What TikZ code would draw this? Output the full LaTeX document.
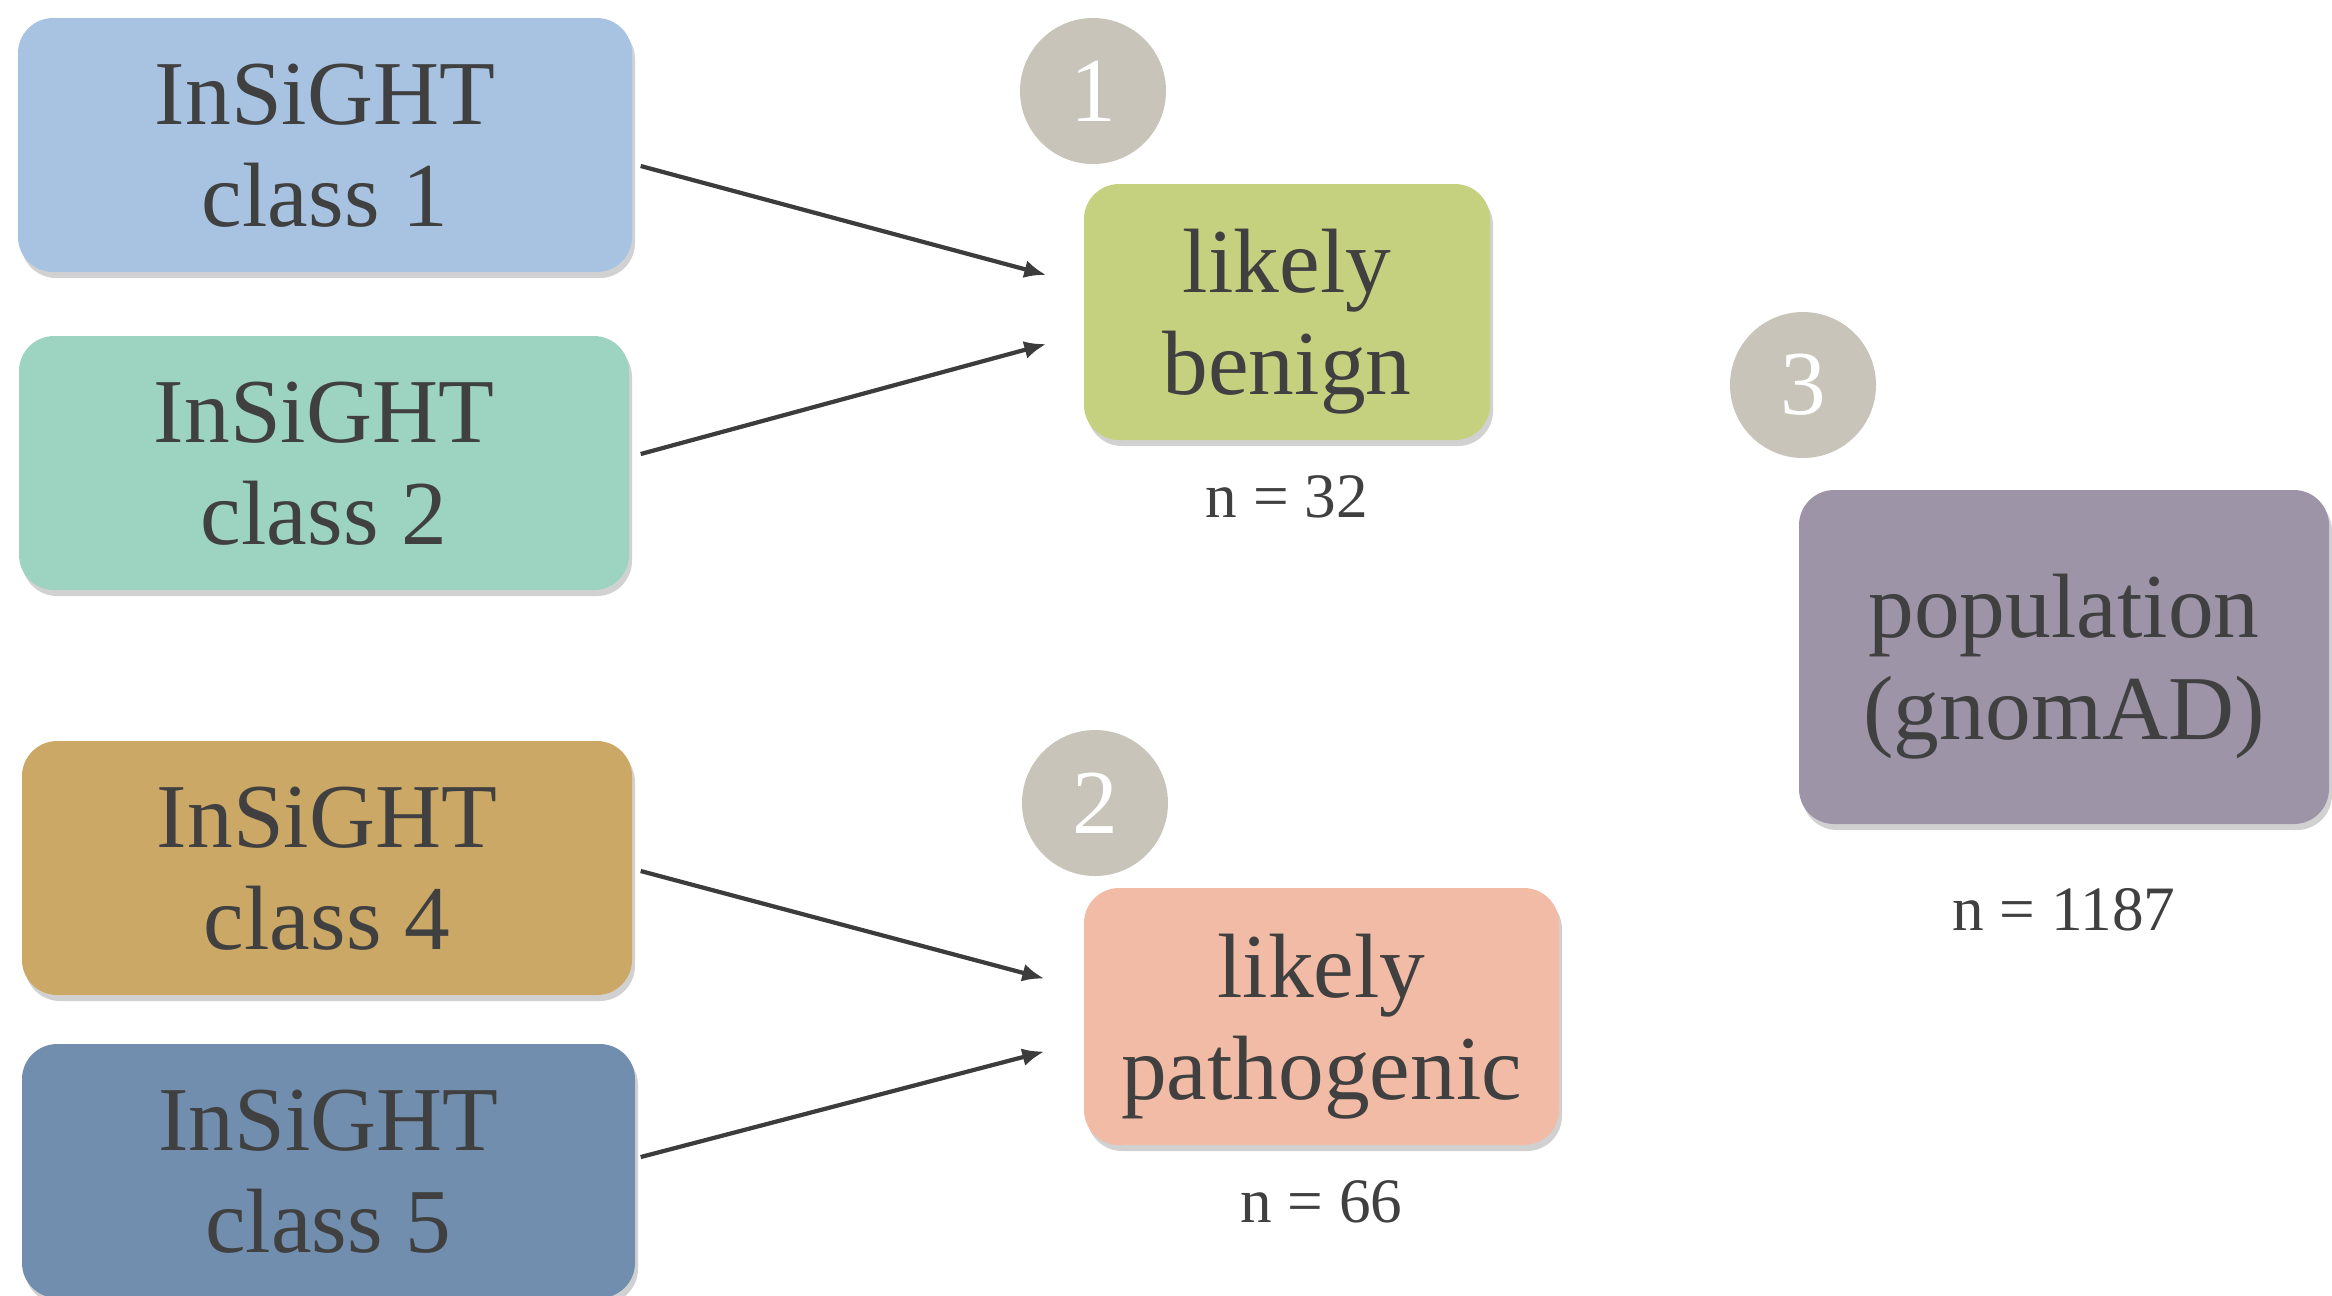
\documentclass[tikz,border=0pt]{standalone}
\usepackage{fontspec}
\setmainfont{Liberation Serif}
\usepackage{xcolor}
\usepackage{tikz}
\usetikzlibrary{arrows.meta,positioning,shadows}
\definecolor{classonefill}{HTML}{A8C3E1}
\definecolor{classtwofill}{HTML}{9DD3C1}
\definecolor{classfourfill}{HTML}{CCA866}
\definecolor{classfivefill}{HTML}{718EAF}
\definecolor{benignfill}{HTML}{C5D17F}
\definecolor{pathofill}{HTML}{F2BBA6}
\definecolor{popfill}{HTML}{9D94A8}
\definecolor{stepfill}{HTML}{C9C4BA}
\definecolor{labelgray}{HTML}{404040}
\definecolor{arrowgray}{HTML}{3C3C3C}

\begin{document}
\begin{tikzpicture}[
  x=1cm,
  y=-1cm,
  every node/.style={
    align=center,
    text=labelgray
  },
  box/.style={
    rectangle,
    rounded corners=10pt,
    minimum height=2.54cm,
    inner sep=0pt,
    text depth=0pt,
    font=\fontsize{26}{29}\selectfont,
    drop shadow={shadow xshift=0.3mm, shadow yshift=-0.6mm, opacity=0.18, fill=black}
  },
  stepmark/.style={
    circle,
    fill=stepfill,
    text=white,
    minimum size=1.46cm,
    inner sep=0pt,
    font=\fontsize{26}{30}\selectfont
  },
  count/.style={
    inner sep=0pt,
    font=\fontsize{18}{21}\selectfont
  },
  flow/.style={
    -{Latex[length=2.2mm,width=1.8mm]},
    draw=arrowgray,
    line width=1.2pt
  }
]

\useasboundingbox (0,0) rectangle (23.32,12.95);

% InSiGHT classes, left column
\node[box, fill=classonefill,  minimum width=6.14cm] (class1) at (3.25,1.45)   {InSiGHT\\class 1};
\node[box, fill=classtwofill,  minimum width=6.10cm] (class2) at (3.24,4.63)   {InSiGHT\\class 2};
\node[box, fill=classfourfill, minimum width=6.10cm] (class4) at (3.27,8.68)   {InSiGHT\\class 4};
\node[box, fill=classfivefill, minimum width=6.13cm] (class5) at (3.285,11.71) {InSiGHT\\class 5};

% Merged sets
\node[box, fill=benignfill, minimum width=4.06cm, minimum height=2.56cm] (benign) at (12.87,3.12)   {likely\\benign};
\node[box, fill=pathofill,  minimum width=4.75cm, minimum height=2.57cm] (patho)  at (13.215,10.165) {likely\\pathogenic};
\node[box, fill=popfill,    minimum width=5.30cm, minimum height=3.34cm] (pop)    at (20.64,6.57)   {population\\(gnomAD)};

% Step numbers
\node[stepmark] (step1) at (10.93,0.91) {1};
\node[stepmark] (step2) at (10.95,8.03) {2};
\node[stepmark] (step3) at (18.03,3.85) {3};

% Counts
\node[count, below=0.34cm of benign] (nbenign) {n = 32};
\node[count, below=0.34cm of patho]  (npatho)  {n = 66};
\node[count, below=0.63cm of pop]    (npop)    {n = 1187};

% Class to set arrows
\draw[flow] ([xshift=0.8mm,yshift=-2.1mm]class1.east) -- ([xshift=-3.7mm,yshift=3.7mm]benign.west);
\draw[flow] ([xshift=1.1mm,yshift=0.9mm]class2.east)  -- ([xshift=-3.7mm,yshift=-3.2mm]benign.west);
\draw[flow] ([xshift=0.8mm,yshift=-0.3mm]class4.east) -- ([xshift=-3.9mm,yshift=3.8mm]patho.west);
\draw[flow] ([xshift=0.5mm,yshift=1.4mm]class5.east)  -- ([xshift=-3.9mm,yshift=-3.5mm]patho.west);

\end{tikzpicture}
\end{document}
